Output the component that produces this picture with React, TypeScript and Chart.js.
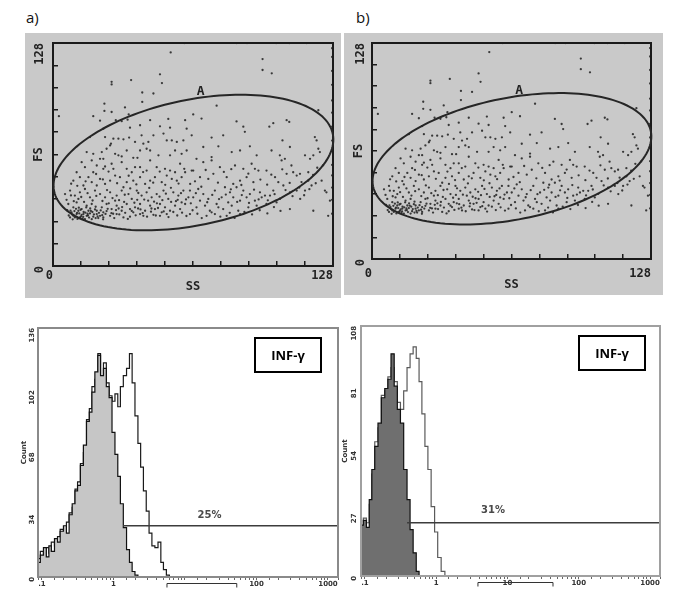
import { useEffect, useRef } from 'react';
import { Chart, registerables } from 'chart.js';

Chart.register(...registerables);

// ---------- DATA ----------
const panelLabels = ['a)', 'b)'];

// Scatter events: [SS, FS] channel values (0-128)
const scatterEvents: [number, number][] = [
  [53.8, 122.6], [48.9, 110], [49.8, 105], [26.8, 105.7], [26.8, 104.2], [35.7, 106.7], [40.8, 99.6], [40.8, 94.2],
  [45.9, 99], [2.7, 86], [23.5, 93.2], [23.5, 89], [26.8, 88.4], [18.4, 86], [32.9, 91], [34.6, 87], [23, 78.8],
  [16.9, 74], [21.5, 83.4], [95.8, 118.8], [95.8, 112.5], [100, 110.6], [74.8, 92], [67.9, 84.6], [64.1, 87], [121.3, 89.4],
  [84, 128], [88.7, 128], [102, 128], [108, 128], [116, 128], [60, 128],
  [34.1, 84], [35.2, 79.4], [39.8, 80.8], [44.4, 83.7], [48.9, 80.2], [52.7, 84.4], [53.5, 79.4], [60.4, 83.7], [61.1, 78.8],
  [31.4, 83.1], [28.7, 83.7],
  [23.8, 74], [27.6, 73.1], [29.9, 73.1], [32.2, 72.7], [34.8, 73.7], [40.5, 75], [45.9, 75], [50.5, 76], [52, 72.1],
  [54.3, 72.1], [56.6, 71.2], [59.6, 72.1], [26.5, 70.2], [26.1, 69.2], [41.3, 70.2], [43.6, 71.2], [37.5, 71.2], [63.4, 75],
  [15.4, 65.4], [18.4, 64.4], [21.5, 61.5], [23, 61.5], [28.4, 64.4], [29.9, 63.5], [31.4, 62.9], [36.7, 62.1], [38.6, 62.1],
  [42.8, 67.3], [44.4, 66.3], [48.2, 63.5], [53.5, 63.5], [55.8, 66.3], [58.8, 64.4], [61.1, 66.3], [39.8, 66.3], [33.7, 66.3],
  [24.5, 67.3], [22.3, 65.4], [17.7, 60.6],
  [13.1, 59.6], [14.6, 56.7], [20, 57.7], [23, 55.8], [23.8, 57.1], [26.8, 58.7], [27.6, 55.8], [31.4, 59.6], [33.7, 55.8],
  [37.5, 56.7], [39.8, 56.7], [42.8, 54.8], [44.4, 60.6], [47.4, 56.7], [51.2, 55.8], [53.5, 54.8], [55.8, 53.8], [58.1, 58.7],
  [60.4, 53.8], [63.4, 54.8], [10.8, 53.8], [18.4, 53.8], [36, 53.8],
  [9.3, 49], [12.3, 51], [16.2, 51], [17.7, 48.1], [21.5, 50], [23.8, 47.1], [26.1, 49], [28.4, 51.9], [30.6, 51], [33.7, 48.1],
  [36.7, 49], [39.8, 51], [42.1, 47.1], [44.4, 49], [46.6, 51], [49.7, 48.1], [52, 51.9], [54.3, 50], [56.6, 49], [58.8, 51],
  [62.7, 47.1], [13.9, 46.2], [20, 46.2], [32.2, 45.2],
  [5.5, 41.3], [7.8, 43.3], [10, 40.4], [12.3, 42.3], [14.6, 44.2], [16.9, 39.4], [19.2, 43.3], [21.5, 41.3], [23.8, 39.4],
  [26.1, 42.3], [29.1, 40.4], [31.4, 43.3], [34.5, 41.3], [36, 38.5], [38.3, 43.3], [40.5, 40.4], [42.8, 42.3], [45.1, 39.4],
  [47.4, 41.3], [50.5, 43.3], [52.7, 38.5], [55, 42.3], [57.3, 40.4], [59.6, 43.3], [61.9, 39.4], [11.6, 38.5], [28.4, 37.5],
  [7, 35.6], [9.3, 33.7], [10.8, 36.5], [13.1, 32.7], [15.4, 34.6], [17.7, 35.6], [20, 31.7], [22.3, 33.7], [24.5, 35.6],
  [26.8, 32.7], [29.1, 34.6], [31.4, 31.7], [33.7, 35.6], [35.2, 32.7], [37.5, 33.7], [39.8, 35.6], [42.1, 31.7], [44.4, 34.6],
  [46.6, 32.7], [48.9, 35.6], [51.2, 33.7], [53.5, 31.7], [55.8, 34.6], [58.1, 32.7], [60.4, 35.6], [13.9, 29.8], [23, 30.8],
  [36.7, 30.8], [49.7, 30.8], [58.8, 36.5], [8.5, 30.8],
  [9.3, 28.8], [10.8, 29.8], [12.3, 27.9], [15.4, 28.8], [16.9, 30.2], [18.4, 28.3], [20, 29.8], [21.5, 28.8], [11.6, 31.7],
  [13.1, 29.4], [10, 27.9], [14.6, 26.9], [17.7, 26.9], [20.7, 27.5], [23, 27.9], [26.1, 28.8], [29.1, 29.8], [32.2, 27.9],
  [35.2, 28.3], [39.8, 29.8], [41.3, 28.8], [45.9, 29.4], [48.9, 28.8], [52, 29.8], [7.8, 27.9], [16.2, 31.7],
  [11, 30.5], [12.8, 28.5], [14, 31], [9.8, 31.5], [15.8, 30], [18, 31], [19.5, 27.5], [21, 30.5], [8.8, 29.5], [13.5, 27.2],
  [16.5, 27.8], [22.5, 29.2], [24.5, 31.5], [11.8, 33.5], [17, 33], [19.5, 34], [25.5, 36], [27.5, 30], [30, 33], [32.5, 36.8],
  [38.5, 38], [43.5, 37.5], [47.5, 36], [50, 37.8], [54, 36.8], [57, 38], [45, 33], [40, 32.5],
  [83.9, 83], [87, 80], [87.7, 77], [98.9, 80], [100.7, 82], [106.8, 83.7], [108, 82.7],
  [72.5, 73.7], [77.8, 75], [68.7, 68.3], [75.6, 68.7], [90, 68.7], [93.1, 63.5], [81.7, 65.4], [85.5, 66.3], [99.9, 66.3],
  [104.9, 72.1], [108.3, 68.3], [119.7, 74], [120.5, 72.1], [121.3, 67.3], [122, 65.4], [103.7, 63.5], [106, 61.5], [104.5, 60.6],
  [115.2, 63.5], [117.5, 61.5], [119, 63.5],
  [65.6, 61.5], [68.7, 59.6], [72.5, 60.6], [72.5, 62.5], [76.3, 56.7], [83.2, 57.7], [87, 55.8], [90.8, 58.7], [92.3, 55.8],
  [93.9, 54.8], [97.6, 54.8], [109, 57.7], [112.9, 52.9], [116.7, 53.8],
  [64.1, 54.8], [67.2, 51], [71, 50], [73.3, 52.9], [79.4, 51], [82.4, 47.1], [85.5, 49], [88.5, 51], [91.6, 48.1], [101.5, 51],
  [103, 48.1], [106.8, 52.9], [111.4, 51.9], [109.8, 53.8], [116.7, 49],
  [62.6, 43.3], [66.4, 44.2], [68.7, 41.3], [74, 43.3], [78.6, 45.2], [80.9, 42.3], [83.9, 45.2], [87, 43.3], [90, 41.3],
  [94.6, 42.3], [96.9, 40.4], [100.7, 43.3], [105.3, 46.2], [111.4, 43.3], [118.2, 46.2], [122.8, 49],
  [64.1, 39.4], [67.2, 37.5], [71, 38.5], [74.8, 35.6], [77.1, 39.4], [80.1, 36.5], [82.4, 39.4], [85.5, 37.5], [88.5, 39.4],
  [92.3, 37.5], [95.4, 39.4], [99.2, 40.4], [108.3, 42.3], [115.2, 43.3],
  [65.6, 33.7], [69.5, 34.6], [71.7, 31.7], [75.6, 33.7], [77.8, 32.7], [81.7, 34.6], [84.7, 31.7], [89.3, 33.7], [93.1, 34.6],
  [97.6, 35.6], [102.2, 36.5],
  [70.2, 28.8], [74, 29.8], [79.4, 28.8], [85.5, 29.8], [62.6, 29.8],
  [124.3, 43.3], [125, 42.3], [119, 31.7], [125.8, 28.8], [108.3, 32.7], [126.6, 37.5],
  [127.6, 30], [127.6, 38], [127.6, 45], [127.6, 52], [127.6, 58], [127.6, 66], [127.6, 72], [127.6, 80], [127.6, 88],
  [127.6, 95], [127.6, 104], [127.6, 112], [127.6, 120], [127.6, 125],
  [6.5, 32], [7.2, 29], [8, 31.8], [9, 26.8], [10.5, 32.8], [11.2, 27], [12, 30.2], [12.6, 32.3], [13.8, 28.2], [14.8, 30.6],
  [15.2, 33.6], [16, 29], [17.3, 31.6], [18.7, 29.6], [19.2, 32.5], [20.4, 28.5], [21.8, 31.9], [22.9, 26.8], [24, 29.9],
  [25, 32.8], [26.7, 30.3], [28, 27.5], [28.8, 32.1], [30.3, 29.6], [31.6, 33.8], [33, 30.5], [34.2, 27], [36, 31.6],
  [37.8, 29.1], [38.9, 33], [41, 30.4], [43, 28.3], [44.8, 31.2], [47, 29], [48, 33.3], [50.6, 31.3], [52.8, 28.1], [55, 31],
  [56.8, 29], [59, 30.6], [61, 28.7], [63.8, 32], [66, 30], [68, 27.5], [72.5, 30.8], [76.5, 28.3], [80.8, 30.5], [83, 27.6],
  [87.5, 31], [91, 29.6], [94.5, 32], [98, 30.2], [101, 33.8], [104, 31.6],
  [6.2, 38], [8.2, 40.5], [9.5, 37.2], [12.9, 39.6], [14.2, 36.8], [15.8, 41.8], [18.1, 37.6], [19.8, 40.2], [22.6, 37.3],
  [24.7, 43.6], [27.2, 39], [30.2, 37.8], [32.8, 40.9], [35.3, 44.5], [37.2, 36.3], [39, 41.9], [41.7, 38.1], [44, 44.8],
  [46.2, 36.9], [48.7, 39.8], [51.6, 41.5], [53.9, 44.9], [56.2, 37.2], [58.5, 41.8], [60.8, 38.2], [63, 36], [65.3, 41.8],
  [67.8, 45.5], [70.5, 36.6], [72.8, 40.8], [75.9, 38.4], [79, 41], [81.3, 44], [84.2, 36.8], [86.3, 40.7], [89.6, 36.2],
  [91.9, 43.8], [94, 38.2], [98.2, 37.7], [101.3, 41.2], [103.8, 38.6], [106.3, 43.6], [109.5, 40.1], [112.6, 45], [114.8, 40.6],
  [117.2, 44.1], [120.1, 47.5], [113, 38.5],
  [8.3, 47.2], [11.1, 46], [14.9, 48.6], [19.7, 52.8], [22.8, 49.7], [25.4, 54.2], [29.3, 47.5], [34.6, 51.8], [38.1, 46.8],
  [41.2, 53.9], [45.8, 47.8], [48.8, 54.2], [51.3, 46.6], [57.4, 47.3], [60, 55.8], [64.9, 48.6], [69.8, 55.1], [75.4, 47.8],
  [78.1, 54], [81.5, 55.6], [86.1, 46.5], [89.3, 53], [94.8, 49.6], [97.9, 46.7], [99.8, 52.4], [104.8, 55.5], [108.2, 47.7],
  [113.6, 48.2], [118.9, 52.3], [120.8, 56.4], [123.5, 57.8],
];

const scatterAxisTicks = [0, 128];
const scatterAxisTickLabels = ['0', '128'];
const scatterXTitle = 'SS';
const scatterYTitle = 'FS';

// Ellipse gate "A" in channel units: centre and two conjugate half-axes
const gateName = 'A';
const gateCenter = [64.2, 59.4];
const gateAxisU = [63.7, 16.4];
const gateAxisV = [5.7, -35.3];
const gateLabelPos = [67.5, 100];

// Histogram a)
const histAFluor = [0.09, 0.1, 0.11, 0.12, 0.13, 0.14, 0.16, 0.17, 0.19, 0.21, 0.23, 0.25, 0.28, 0.3, 0.33, 0.36, 0.4, 0.44, 0.48, 0.52,
  0.58, 0.63, 0.69, 0.76, 0.83, 0.91, 1.0, 1.1, 1.2, 1.3, 1.45, 1.6, 1.75, 1.9, 2.1, 2.3, 2.5, 2.75, 3.0, 3.3,
  3.6, 4.0, 4.4, 4.8, 5.2, 5.8, 6.3, 7.0];
const histAControl = [8, 12, 16, 11, 17, 14, 21, 19, 25, 28, 24, 34, 40, 47, 50, 61, 72, 85, 90, 101,
  112, 121, 110, 114, 104, 98, 79, 67, 55, 40, 27, 15, 8, 3, 1, 0, 0, 0, 0, 0,
  0, 0, 0, 0, 0, 0, 0, 0];
const histAStained = [10, 14, 11, 16, 13, 19, 17, 22, 26, 24, 30, 35, 38, 48, 52, 62, 68, 86, 92, 104,
  108, 122, 110, 117, 106, 99, 96, 100, 93, 104, 110, 114, 122, 106, 88, 73, 60, 47, 36, 24,
  17, 16, 19, 8, 4, 1, 0, 0];
const histAMarker = [1.36, 28]; // start of positive region, level
const histAPercent = '25%';
const histAPercentPos = [22, 33.5];
const histABracket = [5.6, 53];
const histATickLabels = ['.1', '1', '', '100', '1000'];

// Histogram b)
const histBFluor = [0.09, 0.1, 0.11, 0.12, 0.13, 0.145, 0.16, 0.18, 0.2, 0.22, 0.245, 0.27, 0.3, 0.33, 0.37, 0.41, 0.45, 0.5, 0.55, 0.6,
  0.66, 0.73, 0.8, 0.9, 1.0, 1.1, 1.25, 1.4, 1.6, 1.8, 2.0];
const histBControl = [22, 24, 21, 33, 46, 56, 66, 77, 81, 85, 96, 82, 72, 66, 46, 33, 20, 10, 2, 0,
  0, 0, 0, 0, 0, 0, 0, 0, 0, 0, 0];
const histBStained = [20, 25, 23, 31, 44, 58, 64, 78, 80, 86, 90, 84, 75, 72, 80, 90, 96, 99, 94, 84,
  70, 56, 46, 30, 19, 8, 2, 0, 0, 0, 0];
const histBMarker = [0.39, 23];
const histBPercent = '31%';
const histBPercentPos = [6.25, 28.5];
const histBBracket = [3.85, 43.5];
const histBTickLabels = ['.1', '1', '10', '100', '1000'];

const histTickValues = [0.1, 1, 10, 100, 1000];
const histXRange = [0.088, 1380];
const histYTitle = 'Count';
const markerName = 'INF-γ';

// ---------- HELPERS ----------
const MONO = '"DejaVu Sans Mono", monospace';

function ChartCanvas({ left, top, width, height, makeConfig }: any) {
  const ref = useRef<HTMLCanvasElement>(null);
  useEffect(() => {
    const chart = new Chart(ref.current as HTMLCanvasElement, makeConfig());
    return () => chart.destroy();
  }, []);
  return (
    <canvas
      ref={ref}
      width={width}
      height={height}
      style={{ position: 'absolute', left, top, width, height, display: 'block' }}
    />
  );
}

const zeroPad = (s: any) => {
  s.paddingTop = 0;
  s.paddingBottom = 0;
  s.paddingLeft = 0;
  s.paddingRight = 0;
};

function scatterConfig(p: any) {
  const decor = {
    id: 'scatterDecor',
    beforeDraw(chart: any) {
      const ctx = chart.ctx;
      ctx.save();
      ctx.fillStyle = '#c9c9c9';
      ctx.fillRect(0, 0, chart.width, chart.height);
      ctx.restore();
    },
    afterDatasetsDraw(chart: any) {
      const { ctx, chartArea: ca, scales } = chart;
      const x = scales.x;
      const y = scales.y;
      ctx.save();
      ctx.strokeStyle = '#1a1a1a';
      ctx.lineWidth = 2;
      ctx.strokeRect(ca.left, ca.top, ca.right - ca.left, ca.bottom - ca.top);
      ctx.beginPath();
      const n = 160;
      for (let i = 0; i <= n; i++) {
        const t = (i / n) * Math.PI * 2;
        const dx = gateCenter[0] + gateAxisU[0] * Math.cos(t) + gateAxisV[0] * Math.sin(t);
        const dy = gateCenter[1] + gateAxisU[1] * Math.cos(t) + gateAxisV[1] * Math.sin(t);
        const px = x.getPixelForValue(dx);
        const py = y.getPixelForValue(dy);
        if (i === 0) ctx.moveTo(px, py);
        else ctx.lineTo(px, py);
      }
      ctx.closePath();
      ctx.lineWidth = 2;
      ctx.strokeStyle = '#262626';
      ctx.stroke();
      ctx.fillStyle = '#222';
      ctx.font = `bold 13px ${MONO}`;
      ctx.textAlign = 'center';
      ctx.textBaseline = 'middle';
      ctx.fillText(gateName, x.getPixelForValue(gateLabelPos[0]), y.getPixelForValue(gateLabelPos[1]));
      ctx.restore();
    },
  };
  const labelFor = (v: number) => {
    const i = scatterAxisTicks.findIndex((t) => Math.abs(t - v) < 0.01);
    return i >= 0 ? scatterAxisTickLabels[i] : '';
  };
  const tickFont = { family: MONO, size: 12, weight: 'bold' as const };
  return {
    type: 'scatter',
    data: {
      datasets: [
        {
          data: scatterEvents.map(([sx, sy]) => ({ x: sx, y: sy })),
          pointRadius: 1.15,
          pointHoverRadius: 1.15,
          backgroundColor: 'rgba(30,30,30,0.85)',
          borderWidth: 0,
        },
      ],
    },
    options: {
      animation: false,
      responsive: false,
      events: [],
      layout: { padding: { top: 10, right: p.rightPad, left: 0, bottom: 0 } },
      plugins: { legend: { display: false }, tooltip: { enabled: false } },
      scales: {
        x: {
          type: 'linear',
          min: 0,
          max: 128,
          border: { display: false },
          grid: { drawOnChartArea: false, drawTicks: true, tickLength: -5, color: '#1a1a1a', lineWidth: 1.5 },
          ticks: {
            stepSize: 12.8,
            autoSkip: false,
            maxRotation: 0,
            align: 'end',
            padding: p.xLabelPad,
            color: '#222',
            font: tickFont,
            callback: (v: number) => labelFor(v),
          },
          title: { display: true, text: scatterXTitle, color: '#222', font: tickFont, padding: { top: 0, bottom: p.ssPad } },
          afterFit: (s: any) => {
            s.height = p.xHeight;
            zeroPad(s);
          },
        },
        y: {
          type: 'linear',
          min: 0,
          max: 128,
          border: { display: false },
          grid: { drawOnChartArea: false, drawTicks: true, tickLength: -5, color: '#1a1a1a', lineWidth: 1.5 },
          ticks: {
            stepSize: 12.8,
            autoSkip: false,
            minRotation: 90,
            maxRotation: 90,
            padding: p.yLabelPad,
            color: '#222',
            font: tickFont,
            callback: (v: number) => labelFor(v),
          },
          title: { display: true, text: scatterYTitle, color: '#222', font: tickFont, padding: { top: p.fsPad, bottom: 0 } },
          afterFit: (s: any) => {
            s.width = 28;
            zeroPad(s);
          },
        },
      },
    },
    plugins: [decor],
  };
}

function histConfig(p: any) {
  const decor = {
    id: 'histDecor',
    afterDatasetsDraw(chart: any) {
      const { ctx, chartArea: ca, scales } = chart;
      const x = scales.x;
      const y = scales.y;
      ctx.save();
      ctx.strokeStyle = p.frameColor;
      ctx.lineWidth = 2;
      ctx.strokeRect(ca.left, ca.top, ca.right - ca.left, ca.bottom - ca.top);
      ctx.fillStyle = '#4a4a4a';
      ctx.font = 'bold 10px "DejaVu Sans", sans-serif';
      ctx.textAlign = 'center';
      ctx.textBaseline = 'middle';
      ctx.fillText(p.pct, x.getPixelForValue(p.pctPos[0]), y.getPixelForValue(p.pctPos[1]));
      const bw = 66;
      const bh = 34;
      const bx = ca.right - p.boxRight - bw;
      const by = ca.top + 10;
      ctx.fillStyle = '#fff';
      ctx.fillRect(bx, by, bw, bh);
      ctx.strokeStyle = '#000';
      ctx.lineWidth = 2;
      ctx.strokeRect(bx, by, bw, bh);
      ctx.fillStyle = '#000';
      ctx.font = 'bold 13px "Open Sans", sans-serif';
      ctx.fillText(markerName, bx + bw / 2, by + bh / 2 + 1);
      const bl = x.getPixelForValue(p.bracket[0]);
      const br = x.getPixelForValue(p.bracket[1]);
      const yy = ca.bottom + 6.5;
      ctx.beginPath();
      ctx.moveTo(bl, yy + 4);
      ctx.lineTo(bl, yy);
      ctx.lineTo(br, yy);
      ctx.lineTo(br, yy + 4);
      ctx.strokeStyle = '#333';
      ctx.lineWidth = 1;
      ctx.stroke();
      ctx.restore();
    },
  };
  const tickLabel = (v: number) => {
    const i = histTickValues.findIndex((t) => Math.abs(Math.log10(v) - Math.log10(t)) < 1e-6);
    return i >= 0 ? p.xLabels[i] : '';
  };
  const smallFont = { family: '"DejaVu Sans", sans-serif', size: 7, weight: 'bold' as const };
  return {
    type: 'line',
    data: {
      datasets: [
        {
          data: [
            { x: p.marker[0], y: p.marker[1] },
            { x: histXRange[1], y: p.marker[1] },
          ],
          borderColor: '#3c3c3c',
          borderWidth: 1.5,
          pointRadius: 0,
          fill: false,
        },
        {
          data: p.fluor.map((f: number, i: number) => ({ x: f, y: p.control[i] })),
          borderColor: '#111',
          borderWidth: 1.2,
          backgroundColor: p.controlFill,
          fill: 'origin',
          stepped: 'middle',
          pointRadius: 0,
        },
        {
          data: p.fluor.map((f: number, i: number) => ({ x: f, y: p.stained[i] })),
          borderColor: p.stainedLine,
          borderWidth: 1.2,
          backgroundColor: '#ffffff',
          fill: 'origin',
          stepped: 'middle',
          pointRadius: 0,
        },
      ],
    },
    options: {
      animation: false,
      responsive: false,
      events: [],
      layout: { padding: { top: 10, right: p.rightPad, left: 0, bottom: 0 } },
      plugins: { legend: { display: false }, tooltip: { enabled: false } },
      scales: {
        x: {
          type: 'logarithmic',
          min: histXRange[0],
          max: histXRange[1],
          border: { display: false },
          grid: { drawOnChartArea: false, drawTicks: true, tickLength: 3, color: '#666', lineWidth: 1 },
          ticks: {
            autoSkip: false,
            maxRotation: 0,
            minRotation: 0,
            padding: 0,
            color: '#333',
            font: smallFont,
            callback: (v: number) => tickLabel(v),
          },
          afterFit: (s: any) => {
            s.height = 24;
            zeroPad(s);
          },
        },
        y: {
          type: 'linear',
          min: 0,
          max: p.yMax,
          border: { display: false },
          grid: { display: false, drawTicks: false },
          ticks: {
            stepSize: p.yStep,
            minRotation: 90,
            maxRotation: 90,
            padding: p.yLabelPad,
            color: '#333',
            font: smallFont,
          },
          title: { display: true, text: histYTitle, color: '#333', font: smallFont, padding: { top: p.countPad, bottom: 0 } },
          afterFit: (s: any) => {
            s.width = p.yWidth;
            zeroPad(s);
          },
        },
      },
    },
    plugins: [decor],
  };
}

// ---------- APP ----------
export default function App() {
  const labelStyle: any = {
    position: 'absolute',
    fontFamily: '"Open Sans", sans-serif',
    fontSize: 15,
    lineHeight: '18px',
    color: '#111',
  };
  return (
    <div style={{ position: 'absolute', left: 0, top: 0, width: 685, height: 604, background: '#fff', overflow: 'hidden' }}>
      <div style={{ ...labelStyle, left: 26, top: 8 }}>{panelLabels[0]}</div>
      <div style={{ ...labelStyle, left: 356, top: 8 }}>{panelLabels[1]}</div>

      <ChartCanvas
        left={25}
        top={33}
        width={316}
        height={265}
        makeConfig={() =>
          scatterConfig({ rightPad: 8, xHeight: 32, xLabelPad: 7.8, ssPad: 3.8, yLabelPad: 18, fsPad: 6.8 })
        }
      />
      <ChartCanvas
        left={344}
        top={33}
        width={319}
        height={262}
        makeConfig={() =>
          scatterConfig({ rightPad: 12, xHeight: 36, xLabelPad: 12.8, ssPad: 2.8, yLabelPad: 16, fsPad: 7.8 })
        }
      />

      <ChartCanvas
        left={5}
        top={318}
        width={340}
        height={283}
        makeConfig={() =>
          histConfig({
            fluor: histAFluor,
            control: histAControl,
            stained: histAStained,
            controlFill: '#c6c6c6',
            stainedLine: '#1a1a1a',
            marker: histAMarker,
            pct: histAPercent,
            pctPos: histAPercentPos,
            bracket: histABracket,
            xLabels: histATickLabels,
            yMax: 136,
            yStep: 34,
            yWidth: 33,
            yLabelPad: 6,
            countPad: 14.8,
            rightPad: 7,
            boxRight: 17,
            frameColor: '#8a8a8a',
          })
        }
      />
      <ChartCanvas
        left={330}
        top={316}
        width={340}
        height={284}
        makeConfig={() =>
          histConfig({
            fluor: histBFluor,
            control: histBControl,
            stained: histBStained,
            controlFill: '#6f6f6f',
            stainedLine: '#5a5a5a',
            marker: histBMarker,
            pct: histBPercent,
            pctPos: histBPercentPos,
            bracket: histBBracket,
            xLabels: histBTickLabels,
            yMax: 108,
            yStep: 27,
            yWidth: 31,
            yLabelPad: 7,
            countPad: 10.8,
            rightPad: 10,
            boxRight: 15,
            frameColor: '#a0a0a0',
          })
        }
      />
    </div>
  );
}
